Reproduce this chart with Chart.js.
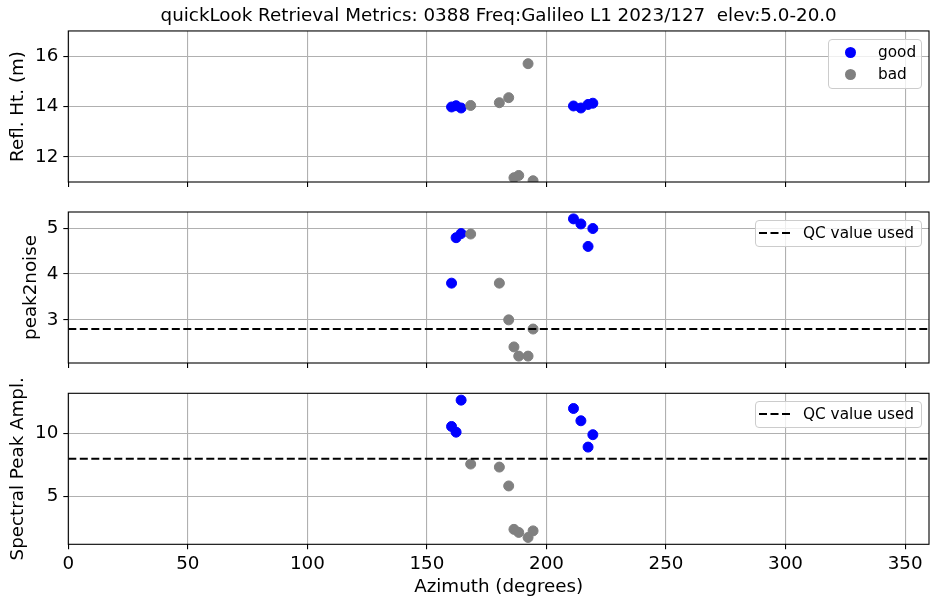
<!DOCTYPE html>
<html>
<head>
<meta charset="utf-8">
<script src="https://cdn.jsdelivr.net/npm/chart.js@4.4.1/dist/chart.umd.min.js"></script>
<style>
  html, body { margin: 0; padding: 0; background: #fff; }
  #wrap { position: relative; width: 930px; height: 600px; overflow: hidden; font-family: "DejaVu Sans", sans-serif; }
  #wrap canvas { position: absolute; left: 0; top: 0; }
  .legend { position: absolute; background: rgba(255,255,255,0.8); border: 1px solid #cccccc; border-radius: 4px;
            box-sizing: border-box; font-size: 15.3px; color: #000; line-height: 1; }
  .legend .dot { position: absolute; width: 11px; height: 11px; border-radius: 50%; }
  .legend .txt { position: absolute; white-space: nowrap; }
</style>
</head>
<body>
<div id="wrap">
  <canvas id="cRH" width="930" height="600"></canvas>
  <canvas id="cP2N" width="930" height="600"></canvas>
  <canvas id="cAmp" width="930" height="600"></canvas>

  <div class="legend" style="left:828px; top:39px; width:94px; height:50px;">
    <div class="dot" style="left:16px; top:7px; background:#0000ff;"></div>
    <div class="txt" style="left:49px; top:5px;">good</div>
    <div class="dot" style="left:16px; top:29px; background:#808080;"></div>
    <div class="txt" style="left:49px; top:27px;">bad</div>
  </div>
  <div class="legend" style="left:755px; top:220px; width:167px; height:27px;">
    <svg style="position:absolute; left:3px; top:10px;" width="36" height="4"><line x1="0" y1="2" x2="34" y2="2" stroke="#000" stroke-width="2" stroke-dasharray="8,3.5"/></svg>
    <div class="txt" style="left:47px; top:5px;">QC value used</div>
  </div>
  <div class="legend" style="left:755px; top:401px; width:167px; height:27px;">
    <svg style="position:absolute; left:3px; top:10px;" width="36" height="4"><line x1="0" y1="2" x2="34" y2="2" stroke="#000" stroke-width="2" stroke-dasharray="8,3.5"/></svg>
    <div class="txt" style="left:47px; top:5px;">QC value used</div>
  </div>
</div>

<script>
// Retrieval metrics per satellite arc (azimuth in degrees)
const goodAzimuth   = [160.3, 162.2, 164.3, 211.3, 214.4, 217.4, 219.4];
const goodReflHt    = [13.98, 14.03, 13.94, 14.02, 13.94, 14.08, 14.13];
const goodPeak2noise = [3.80, 4.79, 4.88, 5.20, 5.09, 4.60, 4.99];
const goodAmplitude = [10.55, 10.10, 12.63, 11.97, 11.00, 8.92, 9.90];

const badAzimuth    = [168.3, 180.3, 184.2, 186.4, 188.4, 192.3, 194.4];
const badReflHt     = [14.04, 14.15, 14.35, 11.17, 11.26, 15.70, 11.05];
const badPeak2noise = [4.87, 3.80, 3.00, 2.41, 2.21, 2.21, 2.80];
const badAmplitude  = [7.58, 7.34, 5.85, 2.42, 2.18, 1.78, 2.30];

// QC thresholds
const qcPeak2noise = 2.8;
const qcAmplitude = 8;

// Axis ticks
const xTicks = [0, 50, 100, 150, 200, 250, 300, 350];
const reflHtTicks = [12, 14, 16];
const peak2noiseTicks = [3, 4, 5];
const amplitudeTicks = [5, 10];

const FONT = "DejaVu Sans";
const BLUE = "#0000ff";
const GRAY = "#808080";

function pts(xs, ys) { return xs.map((x, i) => ({ x: x, y: ys[i] })); }

// Black box around each plot area
const framePlugin = {
  id: "frame",
  afterDraw(chart) {
    const { ctx, chartArea: a } = chart;
    ctx.save();
    ctx.strokeStyle = "#000";
    ctx.lineWidth = 1.1;
    ctx.strokeRect(a.left, a.top, a.right - a.left, a.bottom - a.top);
    ctx.restore();
  }
};

function makePanel(id, cfg) {
  const datasets = [
    { label: "good", data: pts(goodAzimuth, cfg.good), backgroundColor: BLUE, borderColor: BLUE,
      pointRadius: 5, pointBorderWidth: 1, order: 3 },
    { label: "bad", data: pts(badAzimuth, cfg.bad), backgroundColor: GRAY, borderColor: GRAY,
      pointRadius: 5, pointBorderWidth: 1, order: 2 }
  ];
  if (cfg.qc !== undefined) {
    datasets.push({ label: "QC value used", type: "line",
      data: [{ x: 0, y: cfg.qc }, { x: 360, y: cfg.qc }],
      borderColor: "#000", borderWidth: 2, borderDash: [8, 3.5], pointRadius: 0, fill: false, order: 1 });
  }
  const showX = !!cfg.showX;
  return new Chart(document.getElementById(id), {
    type: "scatter",
    data: { datasets },
    plugins: [framePlugin],
    options: {
      responsive: false,
      animation: false,
      events: [],
      layout: { padding: cfg.padding, autoPadding: false },
      plugins: {
        legend: { display: false },
        tooltip: { enabled: false },
        title: cfg.title ? {
          display: true, text: cfg.title, fullSize: false, color: "#000",
          font: { family: FONT, size: 18.3, weight: "normal", lineHeight: 1.2 },
          padding: { top: 5, bottom: 4 }
        } : { display: false }
      },
      scales: {
        x: {
          type: "linear", min: 0, max: 360,
          afterBuildTicks: s => { s.ticks = xTicks.map(v => ({ value: v })); },
          afterFit: s => { s.height = cfg.xHeight; },
          grid: { color: "#b0b0b0", lineWidth: 1.1, tickColor: "#000", tickLength: 5, tickWidth: 1.1 },
          border: { display: false },
          ticks: { display: showX, color: "#000", padding: 4, maxRotation: 0,
                   font: { family: FONT, size: 18.3 } },
          title: { display: showX, text: "Azimuth (degrees)", color: "#000",
                   font: { family: FONT, size: 18.3, lineHeight: 1.2 }, padding: { top: 0, bottom: 2 } }
        },
        y: {
          type: "linear", min: cfg.ymin, max: cfg.ymax,
          afterBuildTicks: s => { s.ticks = cfg.yTicks.map(v => ({ value: v })); },
          afterFit: s => { s.width = 68.3 - cfg.padding.left; },
          grid: { color: "#b0b0b0", lineWidth: 1.1, tickColor: "#000", tickLength: 5, tickWidth: 1.1 },
          border: { display: false },
          ticks: { color: "#000", padding: 5, font: { family: FONT, size: 18.3 } },
          title: { display: true, text: cfg.yLabel, color: "#000",
                   font: { family: FONT, size: 18.3, lineHeight: 1.2 }, padding: { top: 0, bottom: 0 } }
        }
      }
    }
  });
}

makePanel("cRH", {
  title: "quickLook Retrieval Metrics: 0388 Freq:Galileo L1 2023/127  elev:5.0-20.0",
  good: goodReflHt, bad: badReflHt, ymin: 11, ymax: 17, yTicks: reflHtTicks,
  yLabel: "Refl. Ht. (m)", xHeight: 5,
  padding: { left: 7, right: 1, top: 0, bottom: 413 }
});
makePanel("cP2N", {
  good: goodPeak2noise, bad: badPeak2noise, qc: qcPeak2noise, ymin: 2.06, ymax: 5.35, yTicks: peak2noiseTicks,
  yLabel: "peak2noise", xHeight: 5,
  padding: { left: 20, right: 1, top: 212, bottom: 232 }
});
makePanel("cAmp", {
  good: goodAmplitude, bad: badAmplitude, qc: qcAmplitude, ymin: 1.24, ymax: 13.17, yTicks: amplitudeTicks,
  yLabel: "Spectral Peak Ampl.", xHeight: 55.7, showX: true,
  padding: { left: 7, right: 1, top: 393.3, bottom: 0 }
});
</script>
</body>
</html>
